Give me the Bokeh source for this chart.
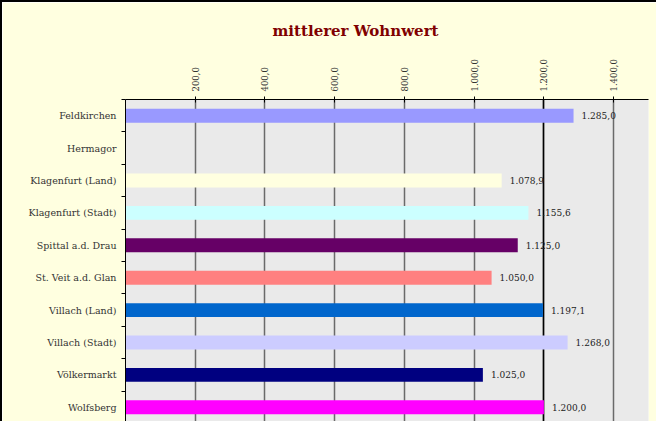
import math
from bokeh.plotting import figure
from bokeh.models import ColumnDataSource, FixedTicker, LinearAxis, Grid, Range1d, Title
from bokeh.core.properties import value
from bokeh.embed import file_html
from bokeh.resources import INLINE

# ---- data ----
regions = ["Feldkirchen", "Hermagor", "Klagenfurt (Land)", "Klagenfurt (Stadt)",
           "Spittal a.d. Drau", "St. Veit a.d. Glan", "Villach (Land)",
           "Villach (Stadt)", "Völkermarkt", "Wolfsberg"]
wohnwert = [1285.0, None, 1078.9, 1155.6, 1125.0, 1050.0, 1197.1, 1268.0, 1025.0, 1200.0]
bar_colors = ["#9999FF", "#9999FF", "#FFFFE0", "#CCFFFF", "#660066", "#FF8080",
              "#0066CC", "#CCCCFF", "#000080", "#FF00FF"]
x_ticks = [200, 400, 600, 800, 1000, 1200, 1400]
title_text = "mittlerer Wohnwert"


def de_fmt(v):
    s = f"{v:,.1f}"
    return s.replace(",", "X").replace(".", ",").replace("X", ".")


n = len(regions)
ypos = [n - 1 - i for i in range(n)]
vals = [float("nan") if v is None else v for v in wohnwert]
labels = ["" if v is None else de_fmt(v) for v in wohnwert]

src = ColumnDataSource(dict(y=ypos, v=vals, c=bar_colors, t=labels,
                            tx=[0 if v is None else v for v in wohnwert]))

SERIF = "DejaVu Serif"
BG = "#FFFFE0"

p = figure(width=656, height=421, output_backend="svg", toolbar_location=None,
           x_range=Range1d(0, 1500), y_range=Range1d(-0.5, n - 0.5),
           x_axis_location=None, y_axis_location=None,
           min_border_left=123, min_border_right=10, min_border_top=96,
           min_border_bottom=0,
           background_fill_color="#EAEAEA", border_fill_color=BG,
           outline_line_color=None,
           styles={"border-top": "2px solid black", "border-left": "2px solid black"})
p.xgrid.grid_line_color = None
p.ygrid.grid_line_color = None

p.title = Title(text=title_text, align="left", offset=147,
                text_font=SERIF, text_font_size="15px", text_font_style="bold",
                text_color="#800000", standoff=34)

# top axis
top = LinearAxis(ticker=FixedTicker(ticks=x_ticks),
                 major_label_overrides={t: de_fmt(t) for t in x_ticks},
                 major_label_orientation=math.pi / 2,
                 major_label_text_font=SERIF, major_label_text_font_size="8.5px",
                 major_label_text_color="#333333",
                 major_label_standoff=5,
                 major_tick_in=3, major_tick_out=3,
                 axis_line_color="black", major_tick_line_color="black",
                 minor_tick_line_color=None)
p.add_layout(top, "above")

# left axis
left = LinearAxis(ticker=FixedTicker(ticks=ypos, minor_ticks=[i - 0.5 for i in range(n + 1)]),
                  major_label_overrides={y: r for y, r in zip(ypos, regions)},
                  major_label_text_font=SERIF, major_label_text_font_size="9.5px",
                  major_label_text_color="#333333",
                  major_label_standoff=5,
                  major_tick_in=0, major_tick_out=0,
                  minor_tick_in=0, minor_tick_out=4,
                  axis_line_color="black", minor_tick_line_color="black")
p.add_layout(left, "left")

p.add_layout(Grid(dimension=0, ticker=FixedTicker(ticks=x_ticks),
                  grid_line_color="#6A6A6A", grid_line_width=1.5))
p.add_layout(Grid(dimension=0, ticker=FixedTicker(ticks=[1200]),
                  grid_line_color="black", grid_line_width=1.5))

p.hbar(y="y", left=0, right="v", height=0.43, fill_color="c", line_color=None, source=src)
p.text(x="tx", y="y", text="t", x_offset=8, text_baseline="middle", text_align="left",
       text_font=value(SERIF), text_font_size="9px", text_color="#222222", source=src)

open("out.html", "w").write(file_html(p, INLINE))
